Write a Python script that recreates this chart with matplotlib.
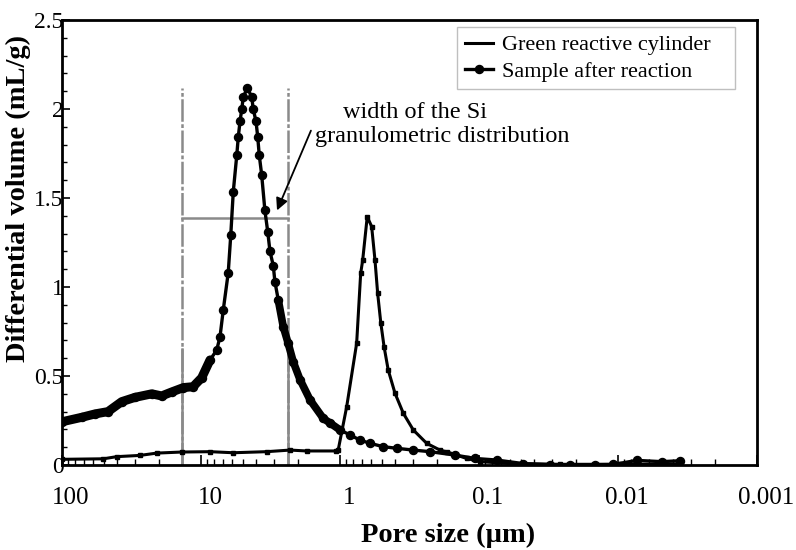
import numpy as np
import matplotlib
matplotlib.use("Agg")
import matplotlib.pyplot as plt
import matplotlib.transforms as mtransforms
from matplotlib.ticker import LogLocator, MultipleLocator, FixedLocator

plt.rcParams['font.family'] = ['Liberation Serif', 'DejaVu Serif']

# 数据: 孔径 (µm) 与 微分体积 (mL/g)
green_size = [100, 50.4, 40.4, 27.5, 20.8, 13.8, 8.61, 5.86, 3.37, 2.29, 1.74, 1.06,
              1.03, 0.895, 0.759, 0.710, 0.687, 0.637, 0.592, 0.560, 0.536, 0.509,
              0.482, 0.450, 0.402, 0.350, 0.297, 0.238, 0.191, 0.171, 0.123, 0.0984,
              0.0598, 0.0261, 0.00968, 0.00358]
green_vol = [0.032, 0.035, 0.047, 0.054, 0.067, 0.073, 0.075, 0.069, 0.075, 0.084, 0.079, 0.079,
             0.085, 0.328, 0.684, 1.077, 1.15, 1.395, 1.34, 1.15, 0.965, 0.80,
             0.665, 0.534, 0.403, 0.29, 0.197, 0.122, 0.084, 0.075, 0.037, 0.019,
             0.008, 0.004, 0.004, 0.006]

sample_size = [100, 72.2, 57.9, 46.7, 37.2, 29.9, 22.6, 19.2, 16.3, 13.4, 11.4, 9.89,
               8.61, 7.71, 7.30, 6.92, 6.37, 6.11, 5.86, 5.53, 5.39, 5.24, 5.09, 4.96,
               4.64, 4.32, 4.21, 4.02, 3.91, 3.81, 3.66, 3.47, 3.31, 3.19, 3.02, 2.94,
               2.78, 2.56, 2.36, 2.17, 1.94, 1.64, 1.32, 1.18, 1.0, 0.847, 0.718, 0.608,
               0.488, 0.391, 0.297, 0.225, 0.149, 0.107, 0.0746, 0.048, 0.0308, 0.0221,
               0.0146, 0.0108, 0.00733, 0.00485, 0.00358]
sample_vol = [0.243, 0.268, 0.287, 0.300, 0.356, 0.380, 0.400, 0.388, 0.410, 0.435, 0.440, 0.490,
              0.59, 0.646, 0.72, 0.87, 1.08, 1.29, 1.535, 1.74, 1.845, 1.93, 2.00, 2.07,
              2.116, 2.07, 2.00, 1.93, 1.845, 1.74, 1.63, 1.43, 1.31, 1.20, 1.12, 1.03,
              0.927, 0.777, 0.684, 0.58, 0.48, 0.365, 0.262, 0.236, 0.197, 0.169, 0.14, 0.122,
              0.103, 0.094, 0.084, 0.075, 0.056, 0.037, 0.028, 0.008, 0.002, 0.002,
              0.002, 0.003, 0.026, 0.019, 0.024]

# Si 粒度分布宽度
si_bounds = [13.7, 2.36]
si_top = 2.12
si_bar = 1.39

x_ticks = [100, 10, 1, 0.1, 0.01, 0.001]
x_labels = ['100', '10', '1', '0.1', '0.01', '0.001']
y_ticks = [0, 0.5, 1, 1.5, 2, 2.5]
y_labels = ['0', '0.5', '1', '1.5', '2', '2.5']

fig = plt.figure(figsize=(7.96, 5.5), dpi=100)
ax = fig.add_axes([0.0779, 0.1545, 0.8731, 0.8091])

ax.set_xscale('log')
ax.set_xlim(100, 0.001)
ax.set_ylim(0, 2.5)

grey = '#8a8a8a'
# 竖线 (点划线 + 下部实线) 与横线
for xb in si_bounds:
    ax.plot([xb, xb], [0, si_top], color=grey, lw=1.8, dashes=(9, 1.0, 1.5, 1.0), zorder=1)
    ax.plot([xb, xb], [0, 0.65], color=grey, lw=1.8, zorder=1)
ax.plot(si_bounds, [si_bar, si_bar], color=grey, lw=1.8, zorder=1)

gs = np.array(green_size)
ss = np.array(sample_size)
sv = np.array(sample_vol)

ax.plot(gs, green_vol, color='black', lw=2.2, label='Green reactive cylinder', zorder=3)
ax.plot(gs, green_vol, ls='none', color='black', marker='s', ms=2.4, zorder=3)
ax.plot(ss, sv, color='black', lw=2.4, marker='o', ms=5.8,
        label='Sample after reaction', zorder=4)
# 数据点密集区域显示为粗带
dense1 = ss >= 8.0
dense2 = (ss <= 2.9) & (ss >= 0.9)
ax.plot(ss[dense1], sv[dense1], color='black', lw=6.5, solid_capstyle='round', zorder=4)
ax.plot(ss[dense2], sv[dense2], color='black', lw=5.5, solid_capstyle='round', zorder=4)

ax.annotate('', xy=(2.89, 1.416), xytext=(1.59, 1.893),
            arrowprops=dict(arrowstyle='-|>', color='black', lw=1.3, mutation_scale=18))
ax.text(0.951, 1.949, 'width of the Si', fontsize=17.5, va='baseline', ha='left')
ax.text(1.51, 1.815, 'granulometric distribution', fontsize=17.5, va='baseline', ha='left')

# 坐标轴
ax.xaxis.set_major_locator(FixedLocator(x_ticks))
ax.set_xticklabels(x_labels)
ax.xaxis.set_minor_locator(LogLocator(base=10, subs=np.arange(2, 10), numticks=20))
ax.xaxis.set_minor_formatter(plt.NullFormatter())
ax.set_yticks(y_ticks)
ax.set_yticklabels(y_labels)
ax.yaxis.set_minor_locator(MultipleLocator(0.1))

ax.tick_params(axis='x', which='major', direction='in', length=7, width=1.2,
               labelsize=18, pad=16, top=False)
ax.tick_params(axis='x', which='minor', direction='in', length=4, width=1.0, top=False)
ax.tick_params(axis='y', which='major', direction='in', length=6, width=1.2,
               labelsize=17, pad=-1, right=False)
ax.tick_params(axis='y', which='minor', direction='in', length=3.5, width=1.0, right=False)

offset = mtransforms.ScaledTranslation(0.09, 0, fig.dpi_scale_trans)
for lab in ax.get_xticklabels():
    lab.set_transform(lab.get_transform() + offset)

for sp in ax.spines.values():
    sp.set_linewidth(2)

ax.set_xlabel('Pore size (µm)', fontsize=20.5, fontweight='bold')
ax.set_ylabel('Differential volume (mL/g)', fontsize=20.5, fontweight='bold')
ax.xaxis.set_label_coords(0.556, -0.131)
ax.yaxis.set_label_coords(-0.045, 0.60)

leg = ax.legend(loc='upper left', bbox_to_anchor=(0.568, 0.85, 0.401, 0.134),
                mode='expand', borderaxespad=0,
                fontsize=16, frameon=True, fancybox=False, edgecolor='#b0b0b0',
                handlelength=1.3, handletextpad=0.4, numpoints=1, borderpad=0.35,
                labelspacing=0.25)
leg.get_frame().set_linewidth(1.0)

fig.savefig('out.png', dpi=100)
